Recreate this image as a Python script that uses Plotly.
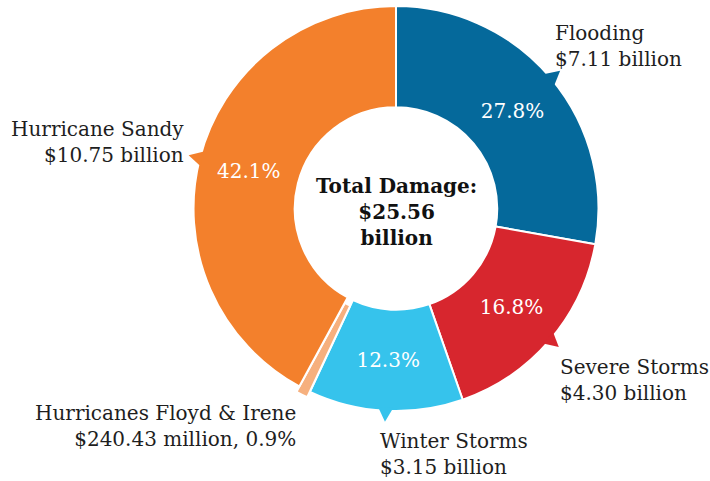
import math
import plotly.graph_objects as go

# Damage by event type (billions of dollars)
categories = ["Flooding", "Severe Storms", "Winter Storms",
              "Hurricanes Floyd & Irene", "Hurricane Sandy"]
damage_billion = [7.11, 4.30, 3.15, 0.24043, 10.75]
amount_labels = ["$7.11 billion", "$4.30 billion", "$3.15 billion",
                 "$240.43 million, 0.9%", "$10.75 billion"]
colors = ["#05699b", "#d7262e", "#36c3ec", "#f6b07e", "#f3802c"]
total_label = "$25.56"

W, H = 710, 481
FONT = "DejaVu Serif"
TEXT = "#1e1e1e"

# donut geometry in pixels
cx, cy = 396, 208
R = 203
pull_small = 0.03
half = R * (1 + pull_small)
dom_x = [(cx - half) / W, (cx + half) / W]
dom_y = [max(0, 1 - (cy + half) / H), min(1, 1 - (cy - half) / H)]

total = sum(damage_billion)
inside_text = [f"{v / total * 100:.1f}%" for v in damage_billion]
inside_text[3] = ""

fig = go.Figure(go.Pie(
    labels=categories,
    values=damage_billion,
    text=inside_text,
    textinfo="text",
    textposition="inside",
    insidetextorientation="horizontal",
    insidetextfont=dict(family=FONT, size=20, color="white"),
    hole=0.5,
    sort=False,
    direction="clockwise",
    rotation=0,
    pull=[0, 0, 0, pull_small, 0],
    marker=dict(colors=colors, line=dict(color="white", width=2)),
    domain=dict(x=dom_x, y=dom_y),
    showlegend=False,
    hoverinfo="label+value+percent",
))

# small pointer notches on the outer edge at the middle of each large slice
shapes = []
cum = 0.0
for i, v in enumerate(damage_billion):
    mid = math.radians((cum + v / 2) / total * 360)
    cum += v
    if i == 3:
        continue
    def pt(r, off):
        # off: tangential offset in pixels
        x = cx + r * math.sin(mid) + off * math.cos(mid)
        y = cy - r * math.cos(mid) + off * math.sin(mid)
        return x / W, 1 - y / H
    a = pt(R - 3, -7.5)
    b = pt(R - 3, 7.5)
    t = pt(R + 11, 0)
    shapes.append(dict(
        type="path", xref="paper", yref="paper",
        path=f"M {a[0]},{a[1]} L {t[0]},{t[1]} L {b[0]},{b[1]} Z",
        fillcolor=colors[i], line=dict(width=0),
    ))

label_pos = {
    "Flooding": (553, 46, "left"),
    "Severe Storms": (558, 380, "left"),
    "Winter Storms": (378, 454, "left"),
    "Hurricanes Floyd & Irene": (298, 426, "right"),
    "Hurricane Sandy": (186, 142, "right"),
}

annotations = []
for name, amt in zip(categories, amount_labels):
    x, y, side = label_pos[name]
    annotations.append(dict(
        x=x / W, y=1 - y / H, xref="paper", yref="paper",
        text=f"{name}<br>{amt}", showarrow=False,
        xanchor=side, yanchor="middle", align=side,
        font=dict(family=FONT, size=20, color=TEXT),
    ))

annotations.append(dict(
    x=cx / W, y=1 - (cy + 4) / H, xref="paper", yref="paper",
    text=f"<b>Total Damage:<br>{total_label}<br>billion</b>",
    showarrow=False, xanchor="center", yanchor="middle", align="center",
    font=dict(family=FONT, size=20, color="#111111"),
))

fig.update_layout(
    width=W, height=H,
    margin=dict(l=0, r=0, t=0, b=0),
    paper_bgcolor="white",
    plot_bgcolor="white",
    shapes=shapes,
    annotations=annotations,
)

fig.write_html("out.html")
